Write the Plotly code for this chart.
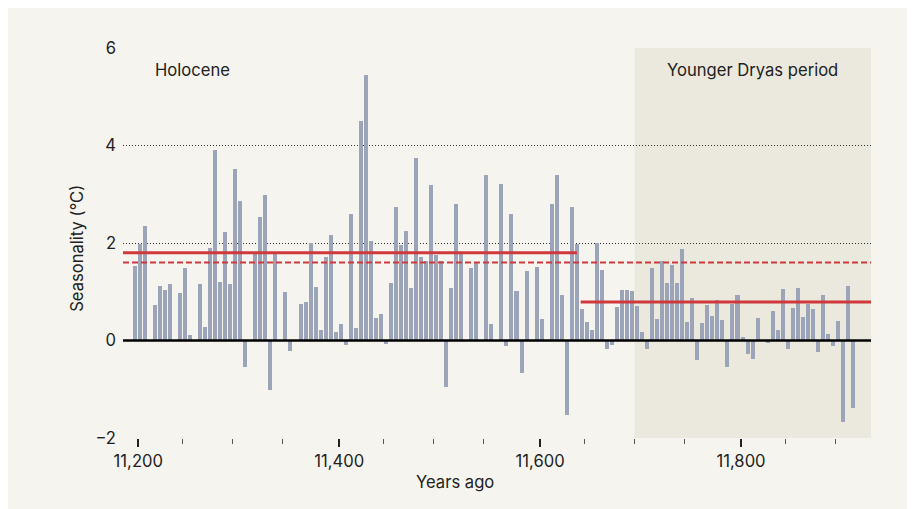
import plotly.graph_objects as go

# ---- data ----
start_year = 11196.5
step_years = 5
seasonality = [
    1.52, 1.98, 2.34, None, 0.72, 1.11, 1.03, 1.15, None, 0.97,
    1.48, 0.12, None, 1.15, 0.27, 1.89, 3.90, 1.19, 2.22, 1.15,
    3.51, 2.87, -0.54, None, 1.78, 2.53, 2.98, -1.02, 1.78, None,
    0.99, -0.22, None, 0.74, 0.80, 2.01, 1.09, 0.21, 1.72, 2.16,
    0.18, 0.33, -0.10, 2.59, 0.25, 4.50, 5.44, 2.05, 0.47, 0.55,
    -0.08, 1.17, 2.73, 1.95, 2.24, 1.07, 3.74, 1.72, 1.63, 3.18,
    1.75, 1.64, -0.96, 1.07, 2.79, 1.77, None, 1.48, 1.62, None,
    3.39, 0.33, None, 3.22, -0.12, 2.59, 1.01, -0.67, 1.42, None,
    1.50, 0.45, None, 2.81, 3.39, 0.94, -1.53, 2.73, 1.97, 0.64,
    0.37, 0.21, 2.01, 1.44, -0.18, -0.10, 0.68, 1.03, 1.03, 1.01,
    0.70, 0.18, -0.18, 1.48, 0.45, 1.64, 1.17, 1.54, 1.17, 1.87,
    0.37, 0.88, -0.40, 0.35, 0.72, 0.51, 0.84, 0.43, -0.54, 0.74,
    0.94, 0.08, -0.28, -0.38, 0.47, None, -0.05, 0.60, 0.21, 1.05,
    -0.18, 0.66, 1.07, 0.49, 0.74, 0.64, -0.24, 0.94, 0.14, -0.12,
    0.39, -1.68, 1.11, -1.39,
]
years = [start_year + step_years * i for i in range(len(seasonality))]

holocene_mean = 1.80
overall_mean = 1.60
younger_dryas_mean = 0.79
holocene_mean_end = 11636.7
younger_dryas_mean_start = 11640.4
younger_dryas_start = 11694

x_range = [11184.8, 11929.4]
y_range = [-2, 6]
major_ticks = [11200, 11400, 11600, 11800]
major_labels = ["11,200", "11,400", "11,600", "11,800"]
minor_ticks = [11244, 11294, 11344, 11444, 11494, 11544, 11644, 11694, 11744, 11844, 11894]
y_ticks = [-2, 0, 2, 4, 6]

# ---- style ----
FONT = "Inter"
FS = 16.6
TXT = "#222222"
PANEL = "#f5f4ee"
SHADE = "#ebe9de"
BAR = "#9ca4b9"
RED = "#d0393c"

OFF = 8  # page body margin
W, H = 915, 509
ML, MR, MT, MB = 123 - OFF, W - (871 - OFF), 48 - OFF, H - (438 - OFF)
PW, PH = W - ML - MR, H - MT - MB


def px_x(p):
    return (p - OFF - ML) / PW


def px_y(p):
    return (H - MB - (p - OFF)) / PH


fig = go.Figure()

fig.add_trace(go.Bar(
    x=years, y=seasonality, width=4,
    marker=dict(color=BAR, line=dict(width=0)),
    hoverinfo="x+y", showlegend=False,
))

fig.add_trace(go.Scatter(
    x=[x_range[0], x_range[1]], y=[overall_mean, overall_mean], mode="lines",
    line=dict(color=RED, width=2, dash="6px,3px"), showlegend=False, hoverinfo="skip",
))
fig.add_trace(go.Scatter(
    x=[x_range[0], holocene_mean_end], y=[holocene_mean, holocene_mean], mode="lines",
    line=dict(color=RED, width=3), showlegend=False, hoverinfo="skip",
))
fig.add_trace(go.Scatter(
    x=[younger_dryas_mean_start, x_range[1]], y=[younger_dryas_mean, younger_dryas_mean], mode="lines",
    line=dict(color=RED, width=3), showlegend=False, hoverinfo="skip",
))

shapes = [
    dict(type="rect", xref="x", yref="y domain", x0=younger_dryas_start, x1=x_range[1],
         y0=0, y1=1, fillcolor=SHADE, line=dict(width=0), layer="below"),
    dict(type="line", xref="x domain", yref="y", x0=0, x1=1, y0=0, y1=0,
         line=dict(color="black", width=2.5), layer="above"),
]

annotations = [
    dict(text="Holocene", x=11253.5, y=5.54, xref="x", yref="y", showarrow=False,
         xanchor="center", yanchor="middle", font=dict(family=FONT, size=FS, color=TXT)),
    dict(text="Younger Dryas period", x=11811.5, y=5.54, xref="x", yref="y", showarrow=False,
         xanchor="center", yanchor="middle", font=dict(family=FONT, size=FS, color=TXT)),
    dict(text="Years ago", x=px_x(454.7), y=px_y(481.7), xref="paper", yref="paper", showarrow=False,
         xanchor="center", yanchor="middle", font=dict(family=FONT, size=FS, color=TXT)),
    dict(text="Seasonality (°C)", x=px_x(77), y=px_y(248.8), xref="paper", yref="paper",
         showarrow=False, textangle=-90, xanchor="center", yanchor="middle",
         font=dict(family=FONT, size=FS, color=TXT)),
]

fig.update_layout(
    width=W, height=H,
    margin=dict(l=ML, r=MR, t=MT, b=MB, pad=0),
    paper_bgcolor=PANEL, plot_bgcolor=PANEL,
    font=dict(family=FONT, size=FS, color=TXT),
    shapes=shapes, annotations=annotations,
    bargap=0, showlegend=False,
)

fig.update_xaxes(
    range=x_range, showgrid=False, zeroline=False, showline=False,
    tickmode="array", tickvals=major_ticks, ticktext=major_labels,
    ticks="outside", ticklen=8, tickwidth=1.5, tickcolor="#222222",
    tickfont=dict(family=FONT, size=FS, color=TXT),
    minor=dict(tickmode="array", tickvals=minor_ticks, ticks="outside",
               ticklen=5, tickwidth=1, tickcolor="#555555", showgrid=False),
)
fig.update_yaxes(
    range=y_range, tickmode="array", tickvals=y_ticks,
    showgrid=True, gridcolor="#333333", gridwidth=1, griddash="1px,2px",
    zeroline=False, showline=False, ticks="", ticklabelstandoff=6,
    tickfont=dict(family=FONT, size=FS, color=TXT),
)

fig.write_html("out.html")
